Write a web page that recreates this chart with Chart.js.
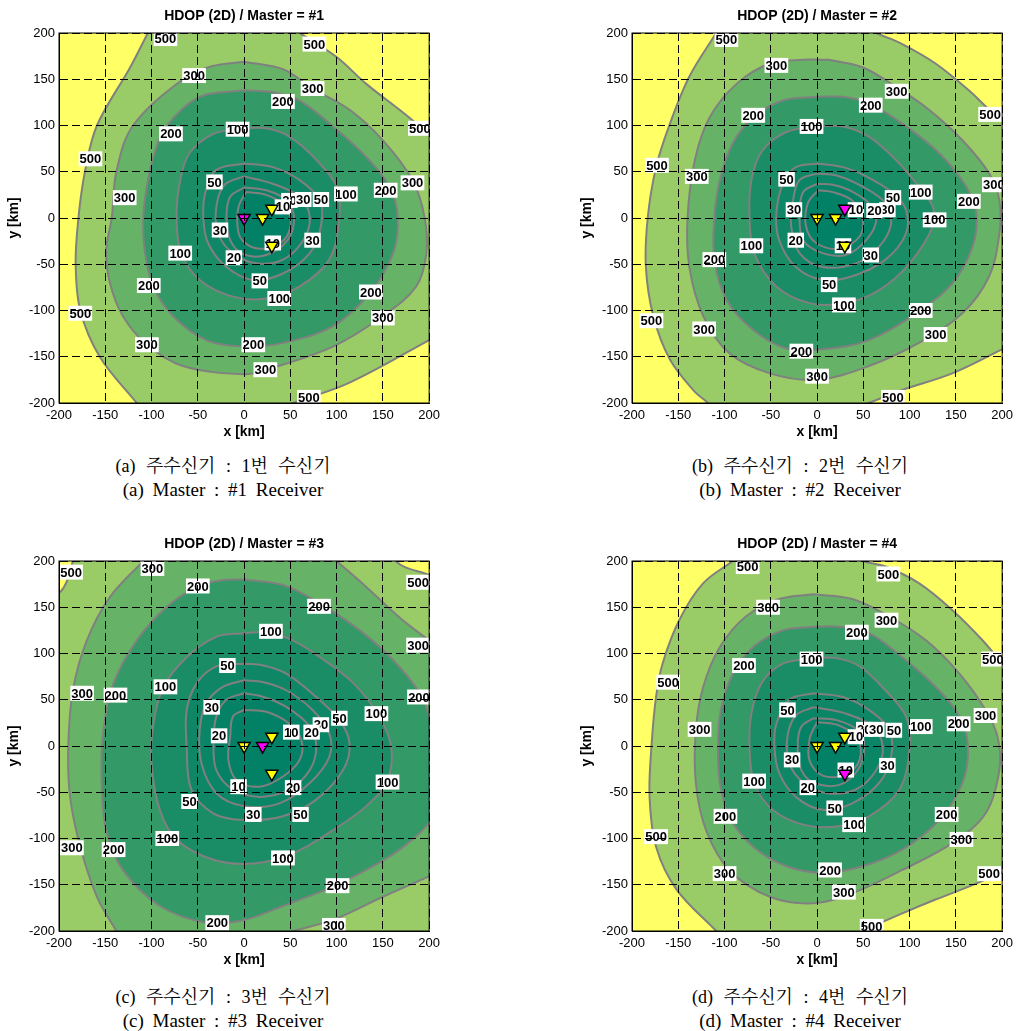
<!DOCTYPE html>
<html>
<head>
<meta charset="utf-8">
<script src="https://cdn.jsdelivr.net/npm/chart.js@4.4.1/dist/chart.umd.min.js"></script>
<style>
  body { margin: 0; background: #fff; width: 1018px; height: 1031px; overflow: hidden; position: relative; }
  .panel { position: absolute; width: 445px; height: 445px; }
  .cap { position: absolute; width: 420px; text-align: center; color: #000;
         font-family: "Liberation Serif", "Noto Serif CJK KR", "Noto Sans CJK KR", serif; line-height: 24px; }
  .ko { font-size: 18px; word-spacing: 6px; }
  .en { font-size: 19px; word-spacing: 4px; }
</style>
</head>
<body>
<div class="panel" style="left:0;top:0"><canvas id="pa" width="445" height="445"></canvas></div>
<div class="panel" style="left:573px;top:0"><canvas id="pb" width="445" height="445"></canvas></div>
<div class="panel" style="left:0;top:528px"><canvas id="pc" width="445" height="445"></canvas></div>
<div class="panel" style="left:573px;top:528px"><canvas id="pd" width="445" height="445"></canvas></div>
<div class="cap" style="left:13px;top:454px"><div class="ko">(a) 주수신기 : 1번 수신기</div><div class="en">(a) Master : #1 Receiver</div></div>
<div class="cap" style="left:590px;top:454px"><div class="ko">(b) 주수신기 : 2번 수신기</div><div class="en">(b) Master : #2 Receiver</div></div>
<div class="cap" style="left:13px;top:985px"><div class="ko">(c) 주수신기 : 3번 수신기</div><div class="en">(c) Master : #3 Receiver</div></div>
<div class="cap" style="left:590px;top:985px"><div class="ko">(d) 주수신기 : 4번 수신기</div><div class="en">(d) Master : #4 Receiver</div></div>
<script>
// HDOP contour levels, outermost first; each contour list below follows this order
const levels = [500, 300, 200, 100, 50, 30, 20, 10];
const ticksKm = [-200, -150, -100, -50, 0, 50, 100, 150, 200];
const receivers = [[0, 0], [30, 10], [20, 0], [30, -30]];
const titles = ['HDOP (2D) / Master = #1', 'HDOP (2D) / Master = #2', 'HDOP (2D) / Master = #3', 'HDOP (2D) / Master = #4'];

// contour outlines in km (points past +-200 close the shape outside the frame)
const contourA = [
  [[-104,200],[-123,163],[-159,100],[-172,50],[-179,0],[-182,-50],[-177,-100],[-156,-150],[-116,-200],[-98,-222],[-10,-228],[20,-212],[53,-200],[114,-178],[200,-132],[225,-118],[232,0],[225,71],[200,91],[168,117],[132,145],[100,174],[60,200],[25,222],[-50,230],[-93,222]],
  [[0,169],[42,161],[74,140],[114,117],[150,84],[182,41],[195,1],[197,-38],[186,-74],[150,-106],[96,-139],[24,-164],[0,-169],[-66,-160],[-105,-137],[-131,-106],[-145,-70],[-149,-35],[-143,0],[-138,50],[-120,100],[-66,150],[-35,164]],
  [[0,138],[31,136],[60,127],[96,99],[132,66],[157,34],[166,1],[161,-38],[136,-81],[96,-117],[42,-135],[0,-139],[-41,-132],[-77,-106],[-98,-74],[-107,-38],[-109,0],[-105,34],[-98,66],[-84,99],[-48,131]],
  [[0,97],[24,97],[49,88],[78,63],[100,34],[103,0],[92,-45],[60,-74],[24,-87],[-12,-85],[-48,-67],[-68,-38],[-73,0],[-69,41],[-59,70],[-33,91]],
  [[0,59],[31,55],[60,41],[82,19],[83,-9],[71,-38],[42,-60],[10,-67],[-19,-53],[-39,-27],[-44,0],[-42,27],[-30,52]],
  [[0,45],[31,37],[60,23],[71,1],[64,-24],[42,-45],[13,-49],[-12,-38],[-28,-17],[-30,12],[-21,36]],
  [[0,33],[24,30],[46,19],[54,0],[47,-24],[24,-40],[-1,-39],[-15,-24],[-19,1],[-15,23]],
  [[2,28],[24,25],[45,12],[50,-10],[38,-28],[15,-33],[-2,-24],[-7,-10],[-6,12]]
];
const contourB = [
  [[-109,200],[-138,153],[-159,102],[-174,55],[-183,0],[-185,-53],[-177,-106],[-159,-153],[-132,-188],[-118,-200],[-105,-215],[10,-222],[30,-210],[56,-200],[92,-186],[146,-168],[200,-142],[225,-130],[230,0],[225,86],[200,106],[186,117],[164,138],[128,167],[92,188],[64,200],[40,212],[-60,225],[-97,220]],
  [[13,171],[49,163],[85,142],[121,117],[157,84],[186,48],[197,19],[197,-17],[186,-63],[157,-103],[110,-135],[56,-160],[0,-175],[-51,-168],[-95,-146],[-123,-106],[-138,-53],[-140,0],[-132,63],[-116,109],[-87,145],[-51,167],[-15,171]],
  [[0,131],[28,131],[56,124],[92,102],[132,70],[161,34],[172,5],[168,-31],[146,-71],[110,-101],[56,-132],[6,-142],[-33,-141],[-69,-121],[-98,-88],[-111,-45],[-111,0],[-105,41],[-91,81],[-69,109],[-37,127]],
  [[0,99],[28,99],[56,88],[85,63],[110,34],[125,12],[125,-9],[100,-49],[67,-78],[31,-92],[-8,-92],[-44,-74],[-68,-38],[-73,0],[-71,41],[-59,73],[-33,93]],
  [[0,59],[28,55],[53,45],[82,27],[96,9],[96,-17],[74,-45],[38,-63],[6,-67],[-23,-53],[-41,-24],[-44,5],[-37,37],[-23,55]],
  [[0,48],[21,46],[49,34],[74,16],[80,-6],[67,-31],[42,-49],[6,-53],[-19,-38],[-28,-9],[-26,19],[-19,41]],
  [[0,37],[17,36],[35,30],[56,16],[64,-2],[53,-24],[31,-40],[6,-38],[-15,-24],[-19,5],[-15,28]],
  [[1,30],[17,28],[38,19],[49,1],[46,-20],[24,-33],[-1,-27],[-12,-9],[-10,16]]
];
const contourC = [
  [[-240,150],[-200,165],[-185,200],[-180,240],[150,240],[164,200],[200,185],[240,170],[240,-240],[-240,-240]],
  [[-109,200],[-145,161],[-170,114],[-185,60],[-190,-1],[-188,-55],[-177,-109],[-159,-163],[-138,-200],[-125,-222],[10,-222],[30,-207],[53,-200],[96,-188],[150,-163],[200,-141],[225,-130],[230,0],[225,95],[200,114],[168,139],[132,172],[100,200],[80,218],[-20,228],[-95,215]],
  [[0,180],[42,174],[82,154],[125,125],[161,93],[190,57],[200,32],[208,0],[208,-60],[200,-83],[168,-112],[132,-134],[96,-152],[42,-173],[0,-188],[-41,-191],[-91,-173],[-131,-134],[-149,-91],[-154,-37],[-152,17],[-141,68],[-116,114],[-84,150],[-51,172],[-26,179]],
  [[0,122],[24,123],[53,114],[82,96],[118,68],[146,32],[159,-1],[155,-37],[132,-65],[96,-91],[53,-116],[10,-127],[-33,-123],[-73,-101],[-91,-69],[-100,-19],[-98,24],[-87,64],[-62,96],[-30,118]],
  [[0,89],[21,87],[46,78],[78,53],[103,28],[114,3],[107,-26],[78,-58],[42,-76],[0,-80],[-33,-73],[-57,-47],[-62,-1],[-62,39],[-51,68],[-30,86]],
  [[0,71],[21,69],[46,60],[74,39],[92,14],[92,-12],[71,-40],[38,-62],[0,-65],[-30,-51],[-46,-19],[-48,17],[-41,46],[-23,64]],
  [[0,57],[21,53],[46,42],[71,21],[78,-1],[71,-26],[49,-47],[17,-55],[-12,-47],[-30,-26],[-33,3],[-30,32],[-19,50]],
  [[0,39],[24,37],[49,24],[62,6],[60,-15],[42,-33],[17,-44],[-8,-37],[-17,-15],[-15,10],[-12,32]]
];
const contourD = [
  [[-91,200],[-123,176],[-149,136],[-167,89],[-174,53],[-179,-1],[-181,-55],[-174,-109],[-152,-155],[-109,-200],[-90,-220],[0,-225],[25,-211],[49,-200],[92,-181],[128,-166],[164,-152],[200,-137],[225,-127],[230,0],[218,68],[200,89],[179,114],[146,147],[110,176],[74,194],[49,200],[25,210],[-40,225],[-70,216]],
  [[-4,164],[38,159],[78,140],[118,114],[154,78],[182,39],[195,10],[197,-26],[182,-73],[146,-105],[92,-134],[38,-159],[-4,-170],[-51,-163],[-95,-134],[-120,-91],[-131,-40],[-131,17],[-123,64],[-105,107],[-77,140],[-41,159]],
  [[-4,129],[24,129],[56,122],[92,96],[128,64],[154,32],[163,-1],[157,-40],[132,-80],[92,-112],[49,-130],[6,-137],[-33,-130],[-69,-109],[-95,-76],[-105,-40],[-107,-1],[-104,39],[-91,78],[-69,107],[-37,125]],
  [[-4,95],[21,95],[46,86],[74,60],[96,32],[100,-2],[89,-47],[56,-76],[21,-87],[-15,-85],[-48,-69],[-68,-40],[-73,-2],[-71,35],[-60,68],[-37,89]],
  [[-4,57],[28,53],[56,39],[78,17],[80,-12],[67,-40],[38,-62],[6,-69],[-23,-55],[-41,-29],[-46,-2],[-44,24],[-30,50]],
  [[-4,42],[31,35],[60,21],[71,-1],[64,-26],[42,-47],[11,-51],[-14,-40],[-30,-19],[-32,10],[-23,33]],
  [[-4,30],[21,28],[44,17],[51,-1],[44,-26],[24,-42],[-3,-40],[-17,-26],[-21,-1],[-17,21]],
  [[0,26],[24,22],[44,8],[46,-15],[31,-31],[6,-32],[-8,-16],[-8,8]]
];

// inline contour labels: x, y (km), text
const labelsA = [
  [-85,194,'500'],[76,188,'500'],[190,97,'500'],[-166,64,'500'],[-177,-103,'500'],[70,-194,'500'],
  [-54,154,'300'],[74,140,'300'],[-129,22,'300'],[182,38,'300'],[150,-108,'300'],[-105,-137,'300'],[23,-164,'300'],
  [42,126,'200'],[-79,91,'200'],[153,30,'200'],[-103,-73,'200'],[137,-80,'200'],[10,-137,'200'],
  [-7,96,'100'],[110,26,'100'],[-69,-38,'100'],[38,-87,'100'],
  [-32,39,'50'],[83,20,'50'],[17,-68,'50'],
  [49,19,'20'],[-11,-43,'20'],
  [64,20,'30'],[-26,-13,'30'],[74,-24,'30'],
  [42,12,'10'],[31,-27,'10']
];
const labelsB = [
  [-98,193,'500'],[187,112,'500'],[-173,57,'500'],[-179,-111,'500'],[82,-194,'500'],
  [-44,165,'300'],[86,137,'300'],[-130,45,'300'],[191,36,'300'],[-122,-120,'300'],[128,-126,'300'],[0,-171,'300'],
  [58,122,'200'],[-69,111,'200'],[164,18,'200'],[-111,-45,'200'],[112,-100,'200'],[-17,-144,'200'],
  [-6,99,'100'],[112,28,'100'],[127,-2,'100'],[-71,-30,'100'],[29,-94,'100'],
  [-33,42,'50'],[82,22,'50'],[13,-72,'50'],
  [-25,9,'30'],[76,9,'30'],[58,-40,'30'],
  [62,8,'20'],[-23,-24,'20'],
  [42,9,'10'],[28,-30,'10']
];
const labelsC = [
  [-187,188,'500'],[188,177,'500'],
  [-99,192,'300'],[188,109,'300'],[-175,57,'300'],[-186,-110,'300'],[97,-194,'300'],
  [-50,173,'200'],[81,151,'200'],[-139,55,'200'],[189,53,'200'],[-141,-112,'200'],[101,-151,'200'],[-29,-191,'200'],
  [29,124,'100'],[-85,64,'100'],[143,35,'100'],[155,-39,'100'],[-83,-100,'100'],[42,-121,'100'],
  [-18,87,'50'],[103,30,'50'],[-59,-60,'50'],[61,-74,'50'],
  [-35,42,'30'],[83,23,'30'],[10,-74,'30'],
  [73,15,'20'],[-27,11,'20'],[53,-45,'20'],
  [51,15,'10'],[-6,-44,'10']
];
const labelsD = [
  [-75,194,'500'],[77,186,'500'],[190,94,'500'],[-161,69,'500'],[-174,-98,'500'],[186,-138,'500'],[59,-195,'500'],
  [-53,150,'300'],[75,136,'300'],[-127,18,'300'],[182,33,'300'],[156,-101,'300'],[-100,-138,'300'],[29,-158,'300'],
  [43,123,'200'],[-79,87,'200'],[153,24,'200'],[-99,-76,'200'],[140,-74,'200'],[14,-134,'200'],
  [-6,94,'100'],[112,21,'100'],[-68,-38,'100'],[40,-85,'100'],
  [-32,39,'50'],[83,17,'50'],[19,-67,'50'],
  [51,18,'20'],[-10,-45,'20'],
  [64,18,'30'],[-27,-15,'30'],[76,-21,'30'],
  [42,10,'10'],[31,-26,'10']
];

// summer colormap, band just below each level
const bandColors = ['#99cc66', '#66b266', '#339966', '#1a8c66', '#0f8766', '#0a8566', '#058266', '#028166'];
const aboveTop = '#ffff66';
const lineGray = '#808080';
const FONT = '"Liberation Sans", Arial, Helvetica, sans-serif';

Chart.defaults.font.family = FONT;
Chart.defaults.color = '#000';

const closed = pts => pts.concat([pts[0]]).map(([x, y]) => ({x, y}));

function axis(text, isX) {
  return {
    type: 'linear',
    min: ticksKm[0],
    max: ticksKm[ticksKm.length - 1],
    afterBuildTicks: s => { s.ticks = ticksKm.map(value => ({value})); },
    afterFit: s => { if (isX) s.height = 42; else s.width = 59; },
    ticks: {font: {size: 13}, color: '#000', padding: isX ? 5 : 4, maxRotation: 0, autoSkip: false},
    grid: {color: '#000', lineWidth: 1, drawTicks: false, z: 1},
    border: {color: '#000', width: 1, dash: [8, 4], z: 2},
    title: {display: true, text, color: '#000', font: {size: 14, weight: 'bold'},
            padding: isX ? {top: 0, bottom: 4} : {top: 6, bottom: 0}}
  };
}

function overlay(labels, title) {
  return {
    id: 'overlay',
    beforeDatasetsDraw(chart) {
      const {ctx, chartArea: a} = chart;
      ctx.save();
      ctx.fillStyle = aboveTop;
      ctx.fillRect(a.left, a.top, a.width, a.height);
      ctx.restore();
    },
    afterDatasetDraw(chart, args) {
      // index 2 is the innermost contour: labels go above contours, below markers
      if (args.index !== 2) return;
      const {ctx, chartArea: a, scales: {x, y}} = chart;
      ctx.save();
      ctx.beginPath();
      ctx.rect(a.left, a.top, a.width, a.height);
      ctx.clip();
      ctx.font = 'bold 13px ' + FONT;
      ctx.textAlign = 'center';
      ctx.textBaseline = 'middle';
      labels.forEach(([vx, vy, text]) => {
        const px = x.getPixelForValue(vx);
        const py = y.getPixelForValue(vy);
        const w = ctx.measureText(text).width + 2;
        ctx.fillStyle = '#fff';
        ctx.fillRect(px - w / 2, py - 7.5, w, 15);
        ctx.fillStyle = '#000';
        ctx.fillText(text, px, py + 1);
      });
      ctx.restore();
    },
    afterDraw(chart) {
      const {ctx, chartArea: a} = chart;
      ctx.save();
      ctx.strokeStyle = '#000';
      ctx.lineWidth = 1;
      ctx.strokeRect(a.left, a.top, a.width, a.height);
      ctx.font = 'bold 14px ' + FONT;
      ctx.textAlign = 'center';
      ctx.textBaseline = 'middle';
      ctx.fillStyle = '#000';
      ctx.fillText(title, (a.left + a.right) / 2, 16.5);
      ctx.restore();
    }
  };
}

function drawPanel(id, contours, labels, master) {
  const marker = (pts, color) => ({
    data: pts.map(([x, y]) => ({x, y})),
    showLine: false, fill: false,
    pointStyle: 'triangle', rotation: 180, pointRadius: 7,
    pointBackgroundColor: color, pointBorderColor: '#000', pointBorderWidth: 1.5,
    clip: false
  });
  const others = receivers.filter((r, i) => i !== master);
  const rings = contours.map((pts, i) => ({
    data: closed(pts),
    fill: 'shape',
    backgroundColor: bandColors[i],
    borderColor: lineGray,
    borderWidth: 2,
    pointRadius: 0,
    tension: 0.35,
    capBezierPoints: false,
    clip: 0
  })).reverse();

  return new Chart(document.getElementById(id), {
    type: 'line',
    data: {datasets: [marker(others, '#ffff00'), marker([receivers[master]], '#ff00ff'), ...rings]},
    options: {
      responsive: false,
      animation: false,
      events: [],
      layout: {padding: {left: 0, right: 15, top: 33, bottom: 0}},
      plugins: {legend: {display: false}, title: {display: false}, tooltip: {enabled: false}},
      scales: {x: axis('x [km]', true), y: axis('y [km]', false)}
    },
    plugins: [overlay(labels, titles[master])]
  });
}

drawPanel('pa', contourA, labelsA, 0);
drawPanel('pb', contourB, labelsB, 1);
drawPanel('pc', contourC, labelsC, 2);
drawPanel('pd', contourD, labelsD, 3);
</script>
</body>
</html>
